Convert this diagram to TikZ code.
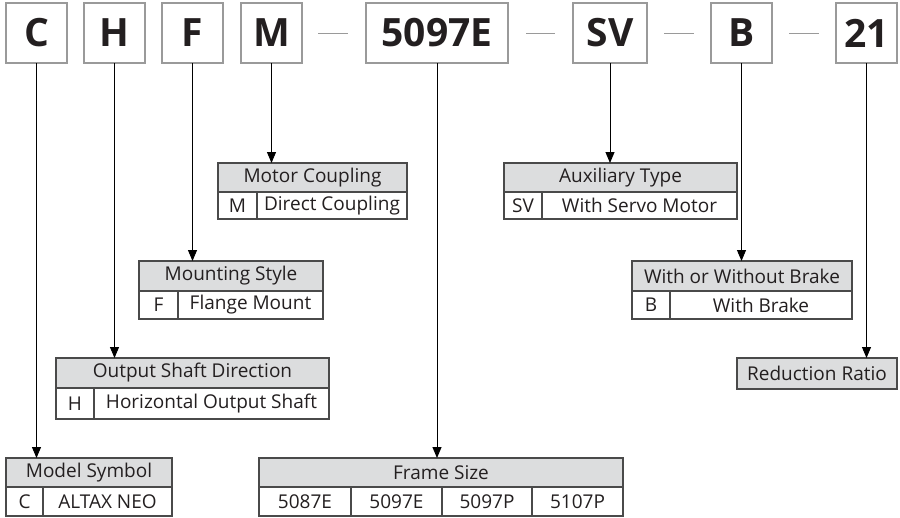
\documentclass[tikz,border=0pt]{standalone}
\usepackage{fontspec}
\setmainfont{Open Sans}
\usetikzlibrary{arrows.meta}
\definecolor{txt}{HTML}{231F20}
\definecolor{hdr}{HTML}{DCDDDE}
\definecolor{bxg}{HTML}{9A9A9A}
\definecolor{tbl}{HTML}{4A4A4A}
\tikzset{
  code/.style={draw=bxg,line width=1.3pt,inner sep=0pt,outer sep=0pt,minimum height=60pt,text=txt,font=\fontsize{39}{39}\selectfont\bfseries},
  hcell/.style={draw=tbl,fill=hdr,line width=1.2pt,inner sep=0pt,outer sep=0pt,text=txt,font=\fontsize{19}{19}\selectfont},
  vcell/.style={draw=tbl,fill=white,line width=1.2pt,inner sep=0pt,outer sep=0pt,text=txt,font=\fontsize{19}{19}\selectfont},
  sep/.style={draw=bxg,line width=1pt},
  arr/.style={draw=black,line width=1pt,-{Triangle[length=11pt,width=9pt]}}
}
\begin{document}
\begin{tikzpicture}[x=1pt,y=-1pt]
\useasboundingbox (0,0) rectangle (900,517);
% top code boxes
\node[code,minimum width=61pt] (C) at (36.5,33) {C};
\node[code,minimum width=61pt] (H) at (114.5,33) {H};
\node[code,minimum width=61pt] (F) at (192.5,33) {F};
\node[code,minimum width=61pt] (M) at (271.5,33) {M};
\node[code,minimum width=142pt] (FS) at (437,33) {5097E};
\node[code,minimum width=74pt] (SV) at (610,33) {SV};
\node[code,minimum width=61pt] (B) at (741.5,33) {B};
\node[code,minimum width=61pt] (R) at (866.5,33) {21};
\draw[sep] (M.east) ++(16,0) coordinate (d1a) -- ++(30,0) coordinate (d1b);
\draw[sep] (FS.east) ++(18,0) coordinate (d2a) -- ++(29,0) coordinate (d2b);
\draw[sep] (SV.east) ++(17,0) coordinate (d3a) -- ++(30,0) coordinate (d3b);
\draw[sep] (B.east) ++(17,0) coordinate (d4a) -- ++(30,0) coordinate (d4b);

% Motor Coupling
\node[hcell,minimum width=189pt,minimum height=29pt] (mch) at (312.5,177.5) {Motor Coupling};
\node[vcell,minimum width=39pt,minimum height=27pt] (mc1) at (237.5,205.5) {M};
\node[vcell,minimum width=150pt,minimum height=27pt] (mc2) at (332,205.5) {Direct Coupling};
% Auxiliary Type
\node[hcell,minimum width=233pt,minimum height=29pt] (ath) at (620.5,177.5) {Auxiliary Type};
\node[vcell,minimum width=38pt,minimum height=27pt] (at1) at (523,205.5) {SV};
\node[vcell,minimum width=195pt,minimum height=27pt] (at2) at (639.5,205.5) {With Servo Motor};
% Mounting Style
\node[hcell,minimum width=184pt,minimum height=30pt] (msh) at (231,276) {Mounting Style};
\node[vcell,minimum width=39pt,minimum height=28pt] (ms1) at (158.5,305) {F};
\node[vcell,minimum width=145pt,minimum height=28pt] (ms2) at (250.5,305) {Flange Mount};
% Brake
\node[hcell,minimum width=220pt,minimum height=30pt] (brh) at (742,276) {With or Without Brake};
\node[vcell,minimum width=38pt,minimum height=28pt] (br1) at (651,305) {B};
\node[vcell,minimum width=182pt,minimum height=28pt] (br2) at (761,305) {With Brake};
% Reduction Ratio
\node[hcell,minimum width=160pt,minimum height=31pt] (rr) at (817,373.5) {Reduction Ratio};
% Output Shaft Direction
\node[hcell,minimum width=273pt,minimum height=30pt] (osh) at (192.5,373) {Output Shaft Direction};
\node[vcell,minimum width=38pt,minimum height=31pt] (os1) at (75,403.5) {H};
\node[vcell,minimum width=235pt,minimum height=31pt] (os2) at (211.5,403.5) {Horizontal Output Shaft};
% Model Symbol
\node[hcell,minimum width=166pt,minimum height=29pt] (mdh) at (89,472.5) {Model Symbol};
\node[vcell,minimum width=37pt,minimum height=29pt] (md1) at (24.5,501.5) {C};
\node[vcell,minimum width=129pt,minimum height=29pt] (md2) at (107.5,501.5) {ALTAX NEO};
% Frame Size
\node[hcell,minimum width=364pt,minimum height=29pt] (fsh) at (441,472.5) {Frame Size};
\node[vcell,minimum width=92pt,minimum height=29pt] (fs1) at (305,501.5) {5087E};
\node[vcell,minimum width=91pt,minimum height=29pt] (fs2) at (396.5,501.5) {5097E};
\node[vcell,minimum width=90pt,minimum height=29pt] (fs3) at (487,501.5) {5097P};
\node[vcell,minimum width=91pt,minimum height=29pt] (fs4) at (577.5,501.5) {5107P};

% connectors
\draw[arr] (M.south) -- (M.south |- mch.north);
\draw[arr] (SV.south) -- (SV.south |- ath.north);
\draw[arr] (F.south) -- (F.south |- msh.north);
\draw[arr] (B.south) -- (B.south |- brh.north);
\draw[arr] (H.south) -- (H.south |- osh.north);
\draw[arr] (R.south) -- (R.south |- rr.north);
\draw[arr] (C.south) -- (C.south |- mdh.north);
\draw[arr] (FS.south) -- (FS.south |- fsh.north);
\end{tikzpicture}
\end{document}
